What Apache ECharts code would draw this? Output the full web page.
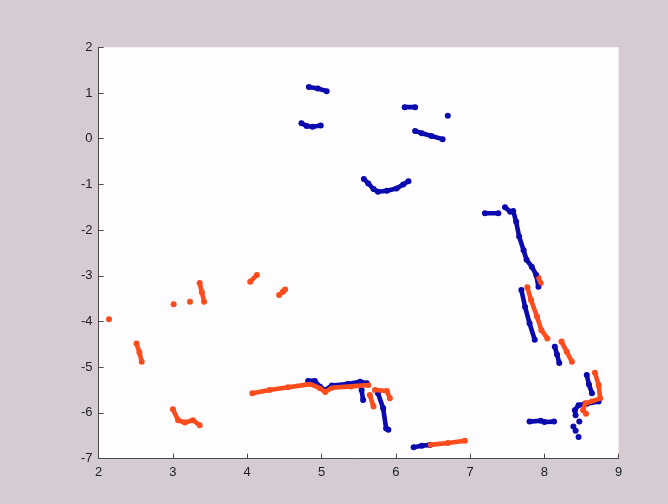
<!DOCTYPE html>
<html>
<head>
<meta charset="utf-8">
<script src="https://cdn.jsdelivr.net/npm/echarts@6/dist/echarts.min.js"></script>
<style>
html,body{margin:0;padding:0;background:#d4ccd2;}
#c{width:668px;height:504px;}
</style>
</head>
<body>
<div id="c"></div>
<script>
// Axis ticks
const xTicks = [2, 3, 4, 5, 6, 7, 8, 9];
const yTicks = [-7, -6, -5, -4, -3, -2, -1, 0, 1, 2];

// Blue scan segments (x, y)
const blueSegments = [
  [[4.83,1.13],[4.95,1.10],[5.07,1.04]],
  [[4.73,0.34],[4.80,0.28],[4.88,0.26],[4.99,0.29]],
  [[6.12,0.69],[6.26,0.69]],
  [[6.70,0.50]],
  [[6.26,0.17],[6.35,0.12],[6.48,0.06],[6.63,-0.01]],
  [[5.57,-0.88],[5.63,-0.98],[5.70,-1.10],[5.76,-1.16],[5.88,-1.14],[6.01,-1.09],[6.10,-1.00],[6.17,-0.93]],
  [[7.20,-1.63],[7.38,-1.63]],
  [[7.47,-1.50],[7.54,-1.60],[7.58,-1.58],[7.62,-1.82],[7.66,-2.14],[7.72,-2.44],[7.76,-2.65],[7.83,-2.80],[7.89,-2.98],[7.92,-3.24]],
  [[7.69,-3.31],[7.74,-3.68],[7.80,-4.04],[7.87,-4.40]],
  [[8.14,-4.55],[8.17,-4.72],[8.20,-4.91]],
  [[8.57,-5.17],[8.60,-5.38],[8.64,-5.57]],
  [[8.73,-5.75],[8.57,-5.80],[8.46,-5.83],[8.41,-5.94],[8.42,-6.05]],
  [[8.47,-6.19]],[[8.39,-6.30]],[[8.42,-6.39]],[[8.46,-6.53]],
  [[7.80,-6.19],[7.95,-6.17]],
  [[8.00,-6.20],[8.13,-6.19]],
  [[4.82,-5.30],[4.91,-5.30],[4.98,-5.43],[5.05,-5.50],[5.14,-5.40],[5.35,-5.37],[5.52,-5.32],[5.61,-5.35]],
  [[5.54,-5.50],[5.56,-5.72]],
  [[5.76,-5.57],[5.83,-5.90],[5.87,-6.34],[5.90,-6.37]],
  [[6.24,-6.75],[6.35,-6.72],[6.46,-6.70]]
];

// Orange scan segments (x, y)
const orangeSegments = [
  [[2.14,-3.95]],
  [[2.51,-4.48],[2.55,-4.68],[2.58,-4.88]],
  [[3.01,-3.62]],
  [[3.23,-3.57]],
  [[3.36,-3.16],[3.39,-3.36],[3.42,-3.57]],
  [[4.04,-3.13],[4.13,-2.98]],
  [[4.43,-3.42],[4.48,-3.35],[4.51,-3.30]],
  [[3.00,-5.92],[3.07,-6.16],[3.16,-6.21],[3.27,-6.16],[3.36,-6.27]],
  [[4.07,-5.57],[4.30,-5.50],[4.55,-5.44],[4.85,-5.37],[4.98,-5.46],[5.05,-5.54],[5.14,-5.45],[5.40,-5.42],[5.63,-5.39]],
  [[5.65,-5.61],[5.70,-5.86]],
  [[5.72,-5.50],[5.88,-5.52],[5.92,-5.68]],
  [[6.46,-6.70],[6.70,-6.66],[6.93,-6.61]],
  [[7.92,-3.05],[7.95,-3.16]],
  [[7.77,-3.25],[7.82,-3.53],[7.90,-3.89],[7.96,-4.19],[8.04,-4.37]],
  [[8.23,-4.44],[8.30,-4.66],[8.37,-4.88]],
  [[8.68,-5.12],[8.73,-5.39],[8.75,-5.68],[8.64,-5.75],[8.55,-5.79],[8.52,-5.94],[8.56,-6.02]]
];

const BLUE = '#0a0aae';
const ORANGE = '#ff4c1c';

function segSeries(segs, color) {
  const out = [];
  segs.forEach(seg => {
    out.push({
      type: 'line', data: seg, showSymbol: false, silent: true,
      lineStyle: { color: color, width: 4.6, cap: 'round', join: 'round' },
      animation: false
    });
    out.push({
      type: 'scatter', data: seg, symbolSize: 6, silent: true,
      itemStyle: { color: color, opacity: 1 }, animation: false
    });
  });
  return out;
}

const chart = echarts.init(document.getElementById('c'), null, { renderer: 'canvas' });
const axisLabel = { color: '#222', fontFamily: 'Liberation Sans, Arial, sans-serif', fontSize: 13 };
chart.setOption({
  backgroundColor: '#d4ccd2',
  animation: false,
  grid: { left: 98.6, right: 49.3, top: 47.3, bottom: 45.4, show: true, backgroundColor: '#fffdff', borderWidth: 0 },
  xAxis: {
    type: 'value', min: xTicks[0], max: xTicks[xTicks.length - 1], interval: 1,
    axisLine: { show: true, onZero: false, lineStyle: { color: '#4a4a4a', width: 1 } },
    axisTick: { show: true, inside: true, length: 5, lineStyle: { color: '#4a4a4a' } },
    axisLabel: Object.assign({ margin: 7 }, axisLabel),
    splitLine: { show: false }
  },
  yAxis: {
    type: 'value', min: yTicks[0], max: yTicks[yTicks.length - 1], interval: 1,
    axisLine: { show: true, onZero: false, lineStyle: { color: '#4a4a4a', width: 1 } },
    axisTick: { show: true, inside: true, length: 5, lineStyle: { color: '#4a4a4a' } },
    axisLabel: Object.assign({ margin: 6 }, axisLabel),
    splitLine: { show: false }
  },
  series: [].concat(segSeries(blueSegments, BLUE), segSeries(orangeSegments, ORANGE))
});
</script>
</body>
</html>
